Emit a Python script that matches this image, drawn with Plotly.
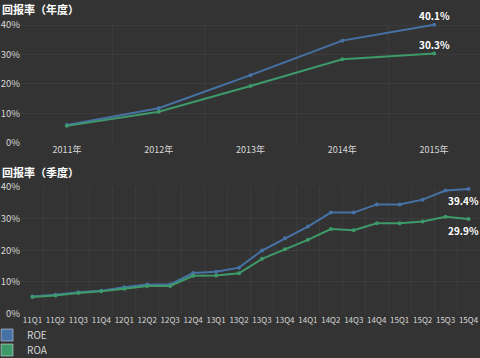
import plotly.graph_objects as go

years = ["2011年", "2012年", "2013年", "2014年", "2015年"]
roe_year = [6.1, 11.8, 23.0, 34.7, 40.1]
roa_year = [5.8, 10.6, 19.3, 28.4, 30.3]

quarters = ["11Q1", "11Q2", "11Q3", "11Q4", "12Q1", "12Q2", "12Q3", "12Q4",
            "13Q1", "13Q2", "13Q3", "13Q4", "14Q1", "14Q2", "14Q3", "14Q4",
            "15Q1", "15Q2", "15Q3", "15Q4"]
roe_q = [5.4, 5.9, 6.7, 7.2, 8.3, 9.2, 9.2, 12.8, 13.2, 14.5, 19.9, 23.8,
         27.5, 31.9, 31.9, 34.5, 34.5, 36.0, 38.9, 39.4]
roa_q = [5.2, 5.7, 6.5, 7.0, 7.8, 8.7, 8.7, 11.9, 12.0, 12.7, 17.3, 20.3,
         23.3, 26.7, 26.3, 28.5, 28.5, 29.1, 30.6, 29.9]

y_ticks = [0, 10, 20, 30, 40]
y_tick_text = ["0%", "10%", "20%", "30%", "40%"]

ROE_C = "#4672a6"
ROA_C = "#3e9a69"
BG = "#333333"
GRID = "#3c3c3c"
TXT = "#d6d6d6"
FONT = "Noto Sans CJK SC"

fig = go.Figure()

for name, vals, col in [("ROE", roe_year, ROE_C), ("ROA", roa_year, ROA_C)]:
    fig.add_trace(go.Scatter(
        x=years, y=vals, mode="lines+markers", name=name,
        line=dict(color=col, width=2), marker=dict(color=col, size=4),
        showlegend=False, cliponaxis=False, xaxis="x", yaxis="y"))

for name, vals, col in [("ROE", roe_q, ROE_C), ("ROA", roa_q, ROA_C)]:
    fig.add_trace(go.Scatter(
        x=quarters, y=vals, mode="lines+markers", name=name,
        line=dict(color=col, width=2), marker=dict(color=col, size=4),
        showlegend=False, cliponaxis=False, xaxis="x2", yaxis="y2"))

# legend swatches (one legend per entry for tight spacing)
for name, col, lg in [("ROE", ROE_C, "legend"), ("ROA", ROA_C, "legend2")]:
    fig.add_trace(go.Bar(x=[quarters[0]], y=[None], name=name,
                         marker=dict(color=col), xaxis="x2", yaxis="y2",
                         showlegend=True, legend=lg))

# end-point value labels
label_font = dict(size=10, color="#ffffff", family=FONT)
annotations = []
for vals in (roe_year, roa_year):
    annotations.append(dict(x=years[-1], y=vals[-1], xref="x", yref="y",
                            text=f"<b>{vals[-1]:.1f}%</b>", showarrow=False,
                            yanchor="bottom", yshift=0, font=label_font))
for vals in (roe_q, roa_q):
    annotations.append(dict(x=quarters[-1], y=vals[-1], xref="x2", yref="y2",
                            text=f"<b>{vals[-1]:.1f}%</b>", showarrow=False,
                            yanchor="top", xanchor="right", xshift=12,
                            yshift=-2, font=label_font))
annotations += [
    dict(text="<b>回报率（年度）</b>", x=-0.044, y=1.0, xref="paper",
         yref="paper", xanchor="left", yanchor="top", showarrow=False,
         borderpad=0, font=dict(size=11, color="#ffffff", family=FONT)),
    dict(text="<b>回报率（季度）</b>", x=-0.044, y=0.545, xref="paper",
         yref="paper", xanchor="left", yanchor="top", showarrow=False,
         borderpad=0, font=dict(size=11, color="#ffffff", family=FONT)),
]

axis_common = dict(showgrid=True, gridcolor=GRID, gridwidth=1, zeroline=False,
                   showline=False, ticks="", color=TXT, automargin=False)

legend_common = dict(x=-0.074, xanchor="left", yanchor="middle",
                     orientation="v", bgcolor="rgba(0,0,0,0)",
                     font=dict(size=10, color=TXT), itemwidth=30)

fig.update_layout(
    width=480, height=358,
    margin=dict(l=21, r=0, t=0, b=0, autoexpand=False),
    paper_bgcolor=BG, plot_bgcolor=BG,
    font=dict(family=FONT, color=TXT, size=9),
    xaxis=dict(domain=[0, 1], anchor="y", type="category",
               range=[-0.5, len(years) - 0.5], tickangle=0,
               tickson="boundaries", tickfont=dict(size=9), **axis_common),
    yaxis=dict(domain=[0.6006, 0.9384], anchor="x", range=[0, 41],
               tickvals=y_ticks, ticktext=y_tick_text,
               tickfont=dict(size=9.5), **axis_common),
    xaxis2=dict(domain=[0, 1], anchor="y2", type="category",
                range=[-0.5, len(quarters) - 0.5], tickangle=0,
                tickson="boundaries", tickfont=dict(size=8), **axis_common),
    yaxis2=dict(domain=[0.1243, 0.4777], anchor="x2", range=[0, 40],
                tickvals=y_ticks, ticktext=y_tick_text,
                tickfont=dict(size=9.5), **axis_common),
    legend=dict(y=1 - 335 / 358, **legend_common),
    legend2=dict(y=1 - 350 / 358, **legend_common),
    annotations=annotations,
)

fig.write_html("out.html", config={"displayModeBar": False},
               post_script="document.body.style.margin='0';"
                           "document.body.style.background='#333333';")
